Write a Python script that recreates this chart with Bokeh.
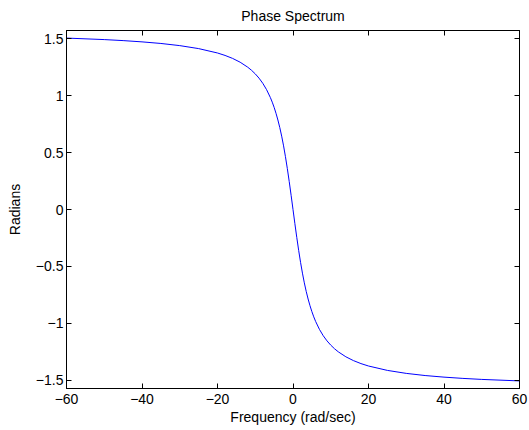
from bokeh.plotting import figure
from bokeh.models import Range1d, LinearAxis, FixedTicker, CustomJSTickFormatter
from bokeh.embed import file_html
from bokeh.resources import INLINE

# Frequency (rad/sec) and phase (radians)
freq = [-60, -50, -45, -40, -35, -30, -25, -20, -18, -16, -14, -12, -11, -10, -9,
        -8, -7, -6, -5.5, -5, -4.5, -4, -3.5, -3, -2.5, -2, -1.5, -1, -0.5, 0,
        0.5, 1, 1.5, 2, 2.5, 3, 3.5, 4, 4.5, 5, 5.5, 6, 7, 8, 9,
        10, 11, 12, 14, 16, 18, 20, 25, 30, 35, 40, 45, 50, 60]
phase = [1.5042, 1.4910, 1.4821, 1.4711, 1.4570, 1.4382, 1.4120, 1.3734, 1.3521,
         1.3258, 1.2925, 1.2490, 1.2220, 1.1903, 1.1526, 1.1071, 1.0517, 0.9828,
         0.9420, 0.8961, 0.8442, 0.7854, 0.7188, 0.6435, 0.5586, 0.4636, 0.3588,
         0.2450, 0.1244, 0.0,
         -0.1244, -0.2450, -0.3588, -0.4636, -0.5586, -0.6435, -0.7188, -0.7854,
         -0.8442, -0.8961, -0.9420, -0.9828, -1.0517, -1.1071, -1.1526, -1.1903,
         -1.2220, -1.2490, -1.2925, -1.3258, -1.3521, -1.3734, -1.4120, -1.4382,
         -1.4570, -1.4711, -1.4821, -1.4910, -1.5042]

x_ticks = [-60, -40, -20, 0, 20, 40, 60]
y_ticks = [-1.5, -1, -0.5, 0, 0.5, 1, 1.5]
x_limits = (-60, 60)
y_limits = (-1.5708, 1.5708)

FONT = "Liberation Sans"
FS = "14px"

p = figure(width=529, height=430, output_backend="svg", toolbar_location=None,
           x_range=Range1d(*x_limits), y_range=Range1d(*y_limits),
           min_border_left=66, min_border_right=10, min_border_top=30,
           min_border_bottom=42, title="Phase Spectrum")
p.title.align = "center"
p.title.vertical_align = "top"
p.title.text_font = FONT
p.title.text_font_size = FS
p.title.text_font_style = "normal"
p.title.text_color = "black"
p.title.standoff = 9
p.title.text_line_height = 1.0

p.grid.visible = False
p.outline_line_color = "black"
p.outline_line_width = 1
p.background_fill_color = "white"
p.border_fill_color = "white"

minus_fmt = CustomJSTickFormatter(code="return String(tick).replace('-', '\\u2212');")
blank_fmt = CustomJSTickFormatter(code="return '';")

def style(ax, ticks, fmt):
    ax.ticker = FixedTicker(ticks=ticks)
    ax.formatter = fmt
    ax.major_tick_in = 5
    ax.major_tick_out = 0
    ax.minor_tick_line_color = None
    ax.axis_line_color = "black"
    ax.major_tick_line_color = "black"
    ax.major_label_text_font = FONT
    ax.major_label_text_font_size = FS
    ax.major_label_text_color = "black"
    ax.axis_label_text_font = FONT
    ax.axis_label_text_font_size = FS
    ax.axis_label_text_font_style = "normal"
    ax.axis_label_text_color = "black"

style(p.xaxis[0], x_ticks, minus_fmt)
style(p.yaxis[0], y_ticks, minus_fmt)
p.xaxis[0].axis_label = "Frequency (rad/sec)"
p.yaxis[0].axis_label = "Radians"
p.xaxis[0].major_label_standoff = 5
p.xaxis[0].axis_label_standoff = 2
p.yaxis[0].major_label_standoff = 3
p.yaxis[0].axis_label_standoff = 10

top = LinearAxis()
style(top, x_ticks, blank_fmt)
top.major_label_standoff = 0
top.major_label_text_font_size = "0px"
p.add_layout(top, "above")
right = LinearAxis()
style(right, y_ticks, blank_fmt)
right.major_label_standoff = 0
right.major_label_text_font_size = "0px"
p.add_layout(right, "right")

p.line(freq, phase, line_color="#0000ff", line_width=1)

open("out.html", "w").write(file_html(p, INLINE))
